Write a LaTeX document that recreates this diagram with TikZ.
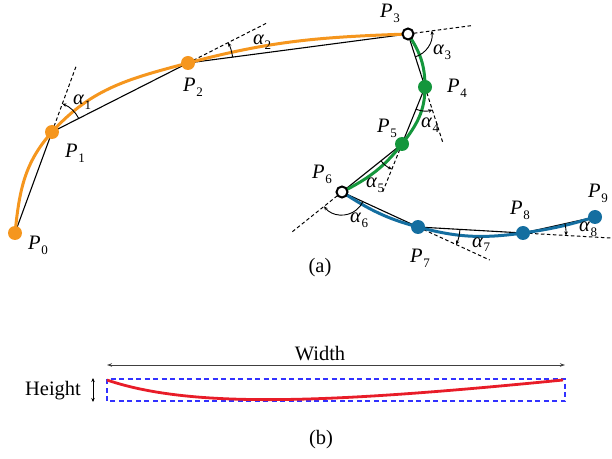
\documentclass[tikz,border=0pt]{standalone}
\usepackage{fontspec}
\setmainfont{Liberation Serif}
\usetikzlibrary{calc,angles,arrows.meta}
\definecolor{corange}{RGB}{245,150,30}
\definecolor{cgreen}{RGB}{20,150,60}
\definecolor{cblue}{RGB}{20,110,160}
\definecolor{cred}{RGB}{232,28,40}
\definecolor{crect}{RGB}{50,50,255}
\newcommand{\lbl}[2]{{\itshape #1}\kern0.6pt\raisebox{-5pt}{\fontsize{13}{13}\selectfont #2}}
\begin{document}
\begin{tikzpicture}[x=1pt,y=1pt,
  every node/.style={font=\fontsize{20.5}{22}\selectfont, inner sep=0pt},
  chord/.style={black, line width=1.1pt},
  tangentline/.style={black, line width=1pt, dash pattern=on 3.5pt off 2.5pt},
  anglearc/.style={draw, line width=0.9pt, >={Stealth[length=4pt,width=3.5pt]}},
  fdot/.style={circle, fill=#1, minimum size=14pt},
  odot/.style={circle, draw=black, fill=white, line width=2pt, minimum size=11pt},
  curve/.style={line width=3pt, #1},
  lab/.style={anchor=base west}
]
\useasboundingbox (0,0) rectangle (612,458);
% points
\coordinate (P0) at (15,225);
\coordinate (P1) at (52,326);
\coordinate (P2) at (188,395);
\coordinate (P3) at (408,424);
\coordinate (P4) at (425,371);
\coordinate (P5) at (402,314);
\coordinate (P6) at (342,266);
\coordinate (P7) at (418,231);
\coordinate (P8) at (523,225);
\coordinate (P9) at (595,241);
% chord extensions
\coordinate (E1) at ($(P1)!-72pt!(P0)$);
\coordinate (E2) at ($(P2)!-88pt!(P1)$);
\coordinate (E3) at ($(P3)!-65pt!(P2)$);
\coordinate (E4) at ($(P4)!-60pt!(P3)$);
\coordinate (E5) at ($(P5)!-52pt!(P4)$);
\coordinate (E6) at ($(P6)!-64pt!(P5)$);
\coordinate (E7) at ($(P7)!-79pt!(P6)$);
\coordinate (E8) at ($(P8)!-95pt!(P7)$);
% dashed extensions
\foreach \i in {1,...,8} \draw[tangentline] (P\i) -- (E\i);
% chords
\draw[chord] (P0) -- (P1) -- (P2) -- (P3) -- (P4) -- (P5) -- (P6) -- (P7) -- (P8) -- (P9);
% curves
\draw[curve=corange] (P0) to[out=84,in=228] (P1) to[out=48,in=195] (P2) to[out=15,in=182] (P3);
\draw[curve=cgreen] (P3) to[out=-56,in=90] (P4) to[out=-90,in=52] (P5) to[out=-128,in=27] (P6);
\draw[curve=cblue] (P6) to[out=-33,in=165] (P7) to[out=-15,in=188] (P8) to[out=8,in=197] (P9);
% angle arcs
\pic[anglearc, ->, angle radius=30pt] {angle = P2--P1--E1};
\pic[anglearc, ->, angle radius=45pt] {angle = P3--P2--E2};
\pic[anglearc, ->, angle radius=24pt] {angle = P4--P3--E3};
\pic[anglearc, ->, angle radius=24pt] {angle = P5--P4--E4};
\pic[anglearc, ->, angle radius=27pt] {angle = P6--P5--E5};
\pic[anglearc, <-, angle radius=23pt] {angle = E6--P6--P7};
\pic[anglearc, <-, angle radius=42pt] {angle = E7--P7--P8};
\pic[anglearc, <-, angle radius=43pt] {angle = E8--P8--P9};
% dots
\node[fdot=corange] (d0) at (P0) {};
\node[fdot=corange] (d1) at (P1) {};
\node[fdot=corange] (d2) at (P2) {};
\node[odot] (d3) at (P3) {};
\node[fdot=cgreen] (d4) at (P4) {};
\node[fdot=cgreen] (d5) at (P5) {};
\node[odot] (d6) at (P6) {};
\node[fdot=cblue] (d7) at (P7) {};
\node[fdot=cblue] (d8) at (P8) {};
\node[fdot=cblue] (d9) at (P9) {};
% point labels
\node[lab] (l0) at (28,208) {\lbl{P}{0}};
\node[lab] (l1) at (65,300) {\lbl{P}{1}};
\node[lab] (l2) at (183,366) {\lbl{P}{2}};
\node[lab] (l3) at (380,440) {\lbl{P}{3}};
\node[lab] (l4) at (447,365) {\lbl{P}{4}};
\node[lab] (l5) at (377,325) {\lbl{P}{5}};
\node[lab] (l6) at (312,279) {\lbl{P}{6}};
\node[lab] (l7) at (410,196) {\lbl{P}{7}};
\node[lab] (l8) at (510,243) {\lbl{P}{8}};
\node[lab] (l9) at (588,260) {\lbl{P}{9}};
% angle labels
\node[lab] (a1) at (73,353) {\lbl{α}{1}};
\node[lab] (a2) at (253,413) {\lbl{α}{2}};
\node[lab] (a3) at (433,403) {\lbl{α}{3}};
\node[lab] (a4) at (421,330) {\lbl{α}{4}};
\node[lab] (a5) at (366,270) {\lbl{α}{5}};
\node[lab] (a6) at (350,235) {\lbl{α}{6}};
\node[lab] (a7) at (472,211) {\lbl{α}{7}};
\node[lab] (a8) at (579,226) {\lbl{α}{8}};
\node (capa) at (320,190) {(a)};
% part (b)
\coordinate (WL) at (107,93);
\coordinate (WR) at (565,93);
\draw[{Stealth[length=5pt,width=3.5pt]}-{Stealth[length=5pt,width=3.5pt]}, line width=0.9pt, black!75] (WL) -- (WR);
\node (width) at (320,104) {Width};
\coordinate (RBL) at (107,57);
\coordinate (RTR) at (565,79);
\draw[draw=crect, line width=1.1pt, dash pattern=on 5pt off 3.5pt] (RBL) rectangle (RTR);
\coordinate (C0) at (107,78);
\coordinate (C1) at (563,78);
\draw[cred, line width=2.8pt] (C0) .. controls (195,48) and (340,56) .. (C1);
\coordinate (HT) at (93,80);
\coordinate (HB) at (93,56);
\draw[{Stealth[length=4pt,width=3.5pt]}-{Stealth[length=4pt,width=3.5pt]}, line width=0.8pt] (HB) -- (HT);
\node (height) at (53,67) {Height};
\node (capb) at (321,18) {(b)};
\end{tikzpicture}
\end{document}
